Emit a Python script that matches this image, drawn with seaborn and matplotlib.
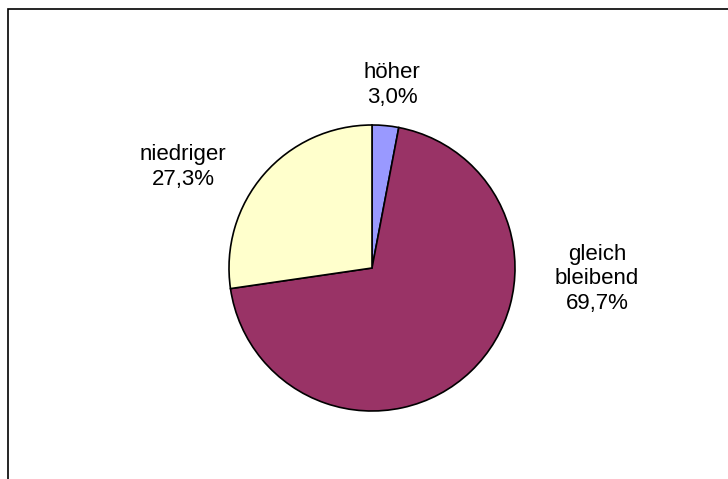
import matplotlib
matplotlib.use("Agg")
import matplotlib.pyplot as plt
import seaborn as sns
from matplotlib.patches import Rectangle

# data
categories = ["höher", "gleich\nbleibend", "niedriger"]
shares = [3.0, 69.7, 27.3]
pct_labels = ["3,0%", "69,7%", "27,3%"]
colors = ["#9999FF", "#993366", "#FFFFCC"]

sns.set_style("white")
plt.rcParams['font.family'] = ['Liberation Sans', 'DejaVu Sans']

fig = plt.figure(figsize=(7.28, 4.79), dpi=100)
ax = fig.add_axes([0, 0, 1, 1])

# pie in pixel space (y flipped)
ax.pie(shares, colors=colors, startangle=90, counterclock=False,
       center=(372, 479 - 268), radius=143, frame=True,
       wedgeprops={'edgecolor': 'black', 'linewidth': 1.2})
ax.set_xlim(0, 728)
ax.set_ylim(0, 479)
ax.set_aspect('equal')
ax.axis('off')

# labels
label_pos = [(392, 479 - 85), (597, 479 - 279), (183, 479 - 167)]
for cat, pct, (x, y) in zip(categories, pct_labels, label_pos):
    ax.text(x, y, cat + "\n" + pct, ha='center', va='center',
            fontsize=16, linespacing=1.22, color='black')

# chart frame (left and top edges visible)
ax.add_patch(Rectangle((7.5, -20), 760, 479 - 8.5 + 20, fill=False,
                       edgecolor='black', linewidth=1.2))

fig.savefig("out.png", dpi=100)
